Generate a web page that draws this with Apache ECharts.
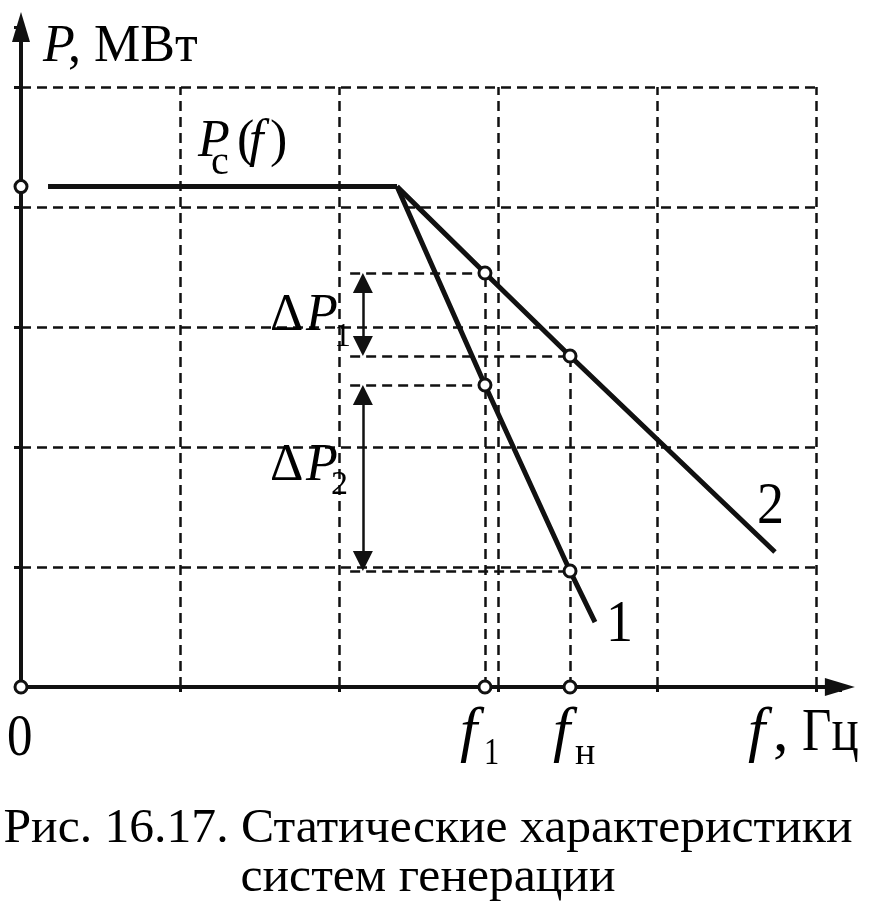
<!DOCTYPE html>
<html><head><meta charset="utf-8">
<script src="https://cdn.jsdelivr.net/npm/echarts@6/dist/echarts.min.js"></script>
<style>html,body{margin:0;padding:0;background:#fff}#c{width:877px;height:910px}</style>
</head><body><div id="c"></div>
<script>
// ---- data (axis units = grid cells) ----
const gridXTicks = [1, 2, 3, 4, 5];
const gridYTicks = [1, 2, 3, 4, 5];
const pcStartF = 0.17;
const pcLevel = 4.17;
const breakF = 2.365;
const f1 = 2.918;
const fn = 3.453;
const line1X = [2.365, 2.918, 3.453, 3.61];
const line1Y = [4.17, 2.517, 0.967, 0.54];
const line2X = [2.365, 2.918, 3.453, 4.742];
const line2Y = [4.17, 3.45, 2.758, 1.125];
const projStartF = 2.07;
const arrowF = 2.15;

const zip = (xs, ys) => xs.map((x, i) => [x, ys[i]]);
const line1 = zip(line1X, line1Y);
const line2 = zip(line2X, line2Y);
const pcCurve = [[pcStartF, pcLevel], [breakF, pcLevel]];
const p2f1 = line2Y[1], p2fn = line2Y[2], p1f1 = line1Y[1], p1fn = line1Y[2];

const gridLines = [];
gridYTicks.forEach(y => gridLines.push({coords: [[0, y], [5.01, y]]}));
gridXTicks.forEach(x => gridLines.push({coords: [[x, 0], [x, 5]]}));
const projLines = [
  {coords: [[f1, 0], [f1, p2f1]]},
  {coords: [[fn, 0], [fn, p2fn]]},
  {coords: [[projStartF, p2f1], [f1, p2f1]]},
  {coords: [[projStartF, p2fn], [fn, p2fn]]},
  {coords: [[projStartF, p1f1], [f1, p1f1]]},
  {coords: [[projStartF, p1fn], [fn, p1fn]]}
];
const markers = [[0, pcLevel], [0, 0], [f1, 0], [fn, 0], [f1, p2f1], [fn, p2fn], [f1, p1f1], [fn, p1fn]];

const FF = '"Liberation Serif"';
const INK = '#111';

function measure(txt, font) {
  const cv = document.createElement('canvas').getContext('2d');
  cv.font = font; return cv.measureText(txt).width;
}
function T(x, yb, text, size, italic, sx, align) {
  const font = (italic ? 'italic ' : '') + size + 'px ' + FF;
  return {type: 'text', x: x, y: yb - 0.30 * size, scaleX: sx || 1, silent: true, z: 100,
    style: {text: text, font: font, fill: '#000', align: align || 'left', verticalAlign: 'middle'}};
}

function render() {
  const chart = echarts.init(document.getElementById('c'), null, {renderer: 'canvas'});
  const cap1 = 'Рис. 16.17. Статические характеристики';
  const cap2 = 'систем генерации';
  const capFont = '48px ' + FF;
  const capScale = 849 / measure(cap1, capFont);
  const dash = {color: INK, width: 2.5, type: [10, 6], opacity: 1};
  const arrowShift = 10 / 120;

  chart.setOption({
    animation: false,
    backgroundColor: '#fff',
    grid: {left: 21, right: 37.15, top: 27, bottom: 223},
    xAxis: {type: 'value', min: 0, max: 5.15, interval: 1,
      axisLine: {show: true, onZero: false, symbol: ['none', 'triangle'], symbolSize: [18, 30], lineStyle: {color: INK, width: 4}},
      axisTick: {show: true, length: 5, lineStyle: {color: INK, width: 3}},
      axisLabel: {show: false}, splitLine: {show: false}},
    yAxis: {type: 'value', min: 0, max: 5.5, interval: 1,
      axisLine: {show: true, onZero: false, symbol: ['none', 'triangle'], symbolSize: [18, 30], lineStyle: {color: INK, width: 4}},
      axisTick: {show: true, length: 7, lineStyle: {color: INK, width: 3}},
      axisLabel: {show: false}, splitLine: {show: false}},
    series: [
      {type: 'lines', coordinateSystem: 'cartesian2d', silent: true, z: 1, lineStyle: dash, data: gridLines},
      {type: 'lines', coordinateSystem: 'cartesian2d', silent: true, z: 1, lineStyle: dash, data: projLines},
      {type: 'line', data: pcCurve, showSymbol: false, z: 3, lineStyle: {color: INK, width: 5}},
      {type: 'line', data: line1, showSymbol: false, z: 3, lineStyle: {color: INK, width: 5}},
      {type: 'line', data: line2, showSymbol: false, z: 3, lineStyle: {color: INK, width: 5}},
      {type: 'lines', coordinateSystem: 'cartesian2d', silent: true, z: 4,
        symbol: ['triangle', 'triangle'], symbolSize: 20,
        itemStyle: {color: INK, opacity: 1},
        lineStyle: {color: INK, width: 2.5, type: 'solid', opacity: 1},
        data: [
          {coords: [[arrowF, p2f1 - arrowShift], [arrowF, p2fn + arrowShift]]},
          {coords: [[arrowF, p1f1 - arrowShift], [arrowF, p1fn + arrowShift]]}
        ]},
      {type: 'scatter', data: markers, symbol: 'circle', symbolSize: 12, z: 6,
        itemStyle: {color: '#fff', borderColor: INK, borderWidth: 3, opacity: 1}}
    ],
    graphic: [
      T(43, 63, 'P', 52, true), T(68, 63, ', МВт', 52, false),
      T(198, 158, 'P', 52, true), T(211, 175, 'с', 40, false), T(237, 158, '(', 52, false), T(249, 158, 'f', 52, true), T(270, 158, ')', 52, false),
      T(270, 332, 'Δ', 52, false), T(306, 332, 'P', 52, true), T(334, 347, '1', 34, false),
      T(270, 482, 'Δ', 52, false), T(306, 482, 'P', 52, true), T(331, 495, '2', 34, false),
      T(606, 643, '1', 60, false, 0.9), T(757, 525, '2', 60, false, 0.9),
      T(7, 757, '0', 60, false, 0.85),
      T(460, 752, 'f', 62, true), T(484, 765, '1', 38, false, 0.8),
      T(553, 752, 'f', 62, true), T(575, 765, 'н', 38, false),
      T(748, 752, 'f', 62, true), T(773, 752, ',', 62, false), T(802, 752, 'Гц', 62, false, 0.82),
      {type: 'text', x: 428, y: 844 - 0.30 * 48, scaleX: capScale, originX: 0, silent: true,
        style: {text: cap1, font: capFont, fill: '#000', align: 'center', verticalAlign: 'middle'}},
      {type: 'text', x: 428, y: 893 - 0.30 * 48, scaleX: capScale, silent: true,
        style: {text: cap2, font: capFont, fill: '#000', align: 'center', verticalAlign: 'middle'}}
    ]
  });
}
const loads = ['48px "Liberation Serif"', 'italic 48px "Liberation Serif"'].map(f => document.fonts.load(f, 'PfМВтΔ'));
Promise.all(loads).then(render, render);
</script></body></html>
